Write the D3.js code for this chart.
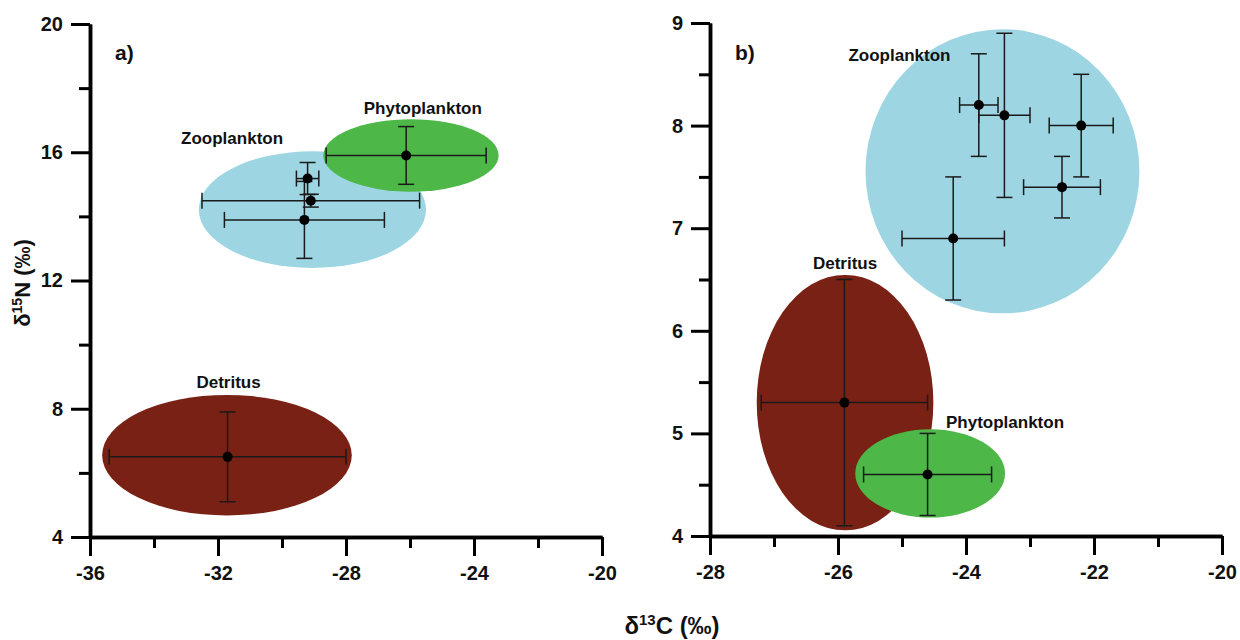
<!DOCTYPE html>
<html>
<head>
<meta charset="utf-8">
<script src="https://cdn.jsdelivr.net/npm/d3@7"></script>
<style>
  body { margin: 0; background: #fff; }
  svg text { font-family: "Liberation Sans", Arial, sans-serif; fill: #111; }
</style>
</head>
<body>
<div id="chart"></div>
<script>
// ---- data: panel a ----
var aTicksX = [-36, -32, -28, -24, -20];
var aMinorX = [-34, -30, -26, -22];
var aTicksY = [4, 8, 12, 16, 20];
var aMinorY = [6, 10, 14, 18];
// ellipses: centre (d13C, d15N) and half widths
var aEllipses = [
  {group: "Detritus",      c: -31.72, n: 6.55,  rc: 3.9,  rn: 1.88},
  {group: "Zooplankton",   c: -29.05, n: 14.21, rc: 3.55, rn: 1.82},
  {group: "Phytoplankton", c: -25.97, n: 15.9,  rc: 2.74, rn: 1.13}
];
// points with +/- errors
var aPoints = [
  {group: "Zooplankton",   c: -29.2,  n: 15.18, ec: 0.35, en: 0.5},
  {group: "Zooplankton",   c: -29.1,  n: 14.49, ec: 3.4,  en: 0.2},
  {group: "Zooplankton",   c: -29.3,  n: 13.89, ec: 2.5,  en: 1.2},
  {group: "Phytoplankton", c: -26.12, n: 15.9,  ec: 2.5,  en: 0.9},
  {group: "Detritus",      c: -31.7,  n: 6.5,   ec: 3.7,  en: 1.4}
];
var aLabels = [
  {text: "Zooplankton",   c: -31.56, n: 16.25},
  {text: "Phytoplankton", c: -25.6,  n: 17.2},
  {text: "Detritus",      c: -31.67, n: 8.65}
];

// ---- data: panel b ----
var bTicksX = [-28, -26, -24, -22, -20];
var bMinorX = [-27, -25, -23, -21];
var bTicksY = [4, 5, 6, 7, 8, 9];
var bMinorY = [4.5, 5.5, 6.5, 7.5, 8.5];
var bEllipses = [
  {group: "Zooplankton",   c: -23.43, n: 7.555, rc: 2.14, rn: 1.385},
  {group: "Detritus",      c: -25.89, n: 5.3,   rc: 1.38, rn: 1.245},
  {group: "Phytoplankton", c: -24.56, n: 4.61,  rc: 1.17, rn: 0.43}
];
var bPoints = [
  {group: "Zooplankton",   c: -23.8, n: 8.2, ec: 0.3, en: 0.5},
  {group: "Zooplankton",   c: -23.4, n: 8.1, ec: 0.4, en: 0.8},
  {group: "Zooplankton",   c: -22.2, n: 8.0, ec: 0.5, en: 0.5},
  {group: "Zooplankton",   c: -22.5, n: 7.4, ec: 0.6, en: 0.3},
  {group: "Zooplankton",   c: -24.2, n: 6.9, ec: 0.8, en: 0.6},
  {group: "Detritus",      c: -25.9, n: 5.3, ec: 1.3, en: 1.2},
  {group: "Phytoplankton", c: -24.6, n: 4.6, ec: 1.0, en: 0.4}
];
var bLabels = [
  {text: "Zooplankton",   c: -25.04, n: 8.63},
  {text: "Detritus",      c: -25.89, n: 6.6},
  {text: "Phytoplankton", c: -23.39, n: 5.05}
];

var colors = {
  "Zooplankton": "#9dd5e3",
  "Phytoplankton": "#4db848",
  "Detritus": "#7a2115"
};

var W = 1240, H = 640;
var svg = d3.select("#chart").append("svg")
    .attr("width", W)
    .attr("height", H);

// plain hyphen for negatives, no decimals
var fmt = function(d) { return String(d); };

function drawPanel(opts) {
  var x = d3.scaleLinear().domain(opts.xDomain).range(opts.xRange);
  var y = d3.scaleLinear().domain(opts.yDomain).range(opts.yRange);
  var g = svg.append("g");

  // ellipses
  g.selectAll("ellipse")
    .data(opts.ellipses)
    .enter().append("ellipse")
      .attr("cx", function(d) { return x(d.c); })
      .attr("cy", function(d) { return y(d.n); })
      .attr("rx", function(d) { return Math.abs(x(d.c + d.rc) - x(d.c)); })
      .attr("ry", function(d) { return Math.abs(y(d.n + d.rn) - y(d.n)); })
      .attr("fill", function(d) { return colors[d.group]; });

  // error bars
  var cap = 8;
  var eb = g.selectAll(".eb")
    .data(opts.points)
    .enter().append("g")
      .attr("class", "eb")
      .attr("stroke", "#1a1a1a")
      .attr("stroke-width", 1.5);
  eb.append("line")
      .attr("x1", function(d) { return x(d.c - d.ec); })
      .attr("x2", function(d) { return x(d.c + d.ec); })
      .attr("y1", function(d) { return y(d.n); })
      .attr("y2", function(d) { return y(d.n); });
  eb.append("line")
      .attr("x1", function(d) { return x(d.c); })
      .attr("x2", function(d) { return x(d.c); })
      .attr("y1", function(d) { return y(d.n - d.en); })
      .attr("y2", function(d) { return y(d.n + d.en); });
  // caps
  [-1, 1].forEach(function(s) {
    eb.append("line")
        .attr("x1", function(d) { return x(d.c + s * d.ec); })
        .attr("x2", function(d) { return x(d.c + s * d.ec); })
        .attr("y1", function(d) { return y(d.n) - cap; })
        .attr("y2", function(d) { return y(d.n) + cap; });
    eb.append("line")
        .attr("x1", function(d) { return x(d.c) - cap; })
        .attr("x2", function(d) { return x(d.c) + cap; })
        .attr("y1", function(d) { return y(d.n + s * d.en); })
        .attr("y2", function(d) { return y(d.n + s * d.en); });
  });
  g.selectAll(".dot")
    .data(opts.points)
    .enter().append("circle")
      .attr("class", "dot")
      .attr("cx", function(d) { return x(d.c); })
      .attr("cy", function(d) { return y(d.n); })
      .attr("r", 5)
      .attr("fill", "#000");

  // group labels
  g.selectAll(".glabel")
    .data(opts.labels)
    .enter().append("text")
      .attr("class", "glabel")
      .attr("x", function(d) { return x(d.c); })
      .attr("y", function(d) { return y(d.n); })
      .attr("text-anchor", "middle")
      .style("font-size", "17px")
      .style("font-weight", "bold")
      .text(function(d) { return d.text; });

  // axes
  var y0 = opts.yRange[0];
  var x0 = opts.xRange[0];
  var xMinor = g.append("g")
      .attr("transform", "translate(0," + y0 + ")")
      .call(d3.axisBottom(x).tickValues(opts.minorX).tickSize(11).tickSizeOuter(0).tickFormat(""));
  var yMinor = g.append("g")
      .attr("transform", "translate(" + x0 + ",0)")
      .call(d3.axisLeft(y).tickValues(opts.minorY).tickSize(11).tickSizeOuter(0).tickFormat(""));
  var xAxis = g.append("g")
      .attr("transform", "translate(0," + y0 + ")")
      .call(d3.axisBottom(x).tickValues(opts.ticksX).tickSize(19).tickSizeOuter(0).tickPadding(10).tickFormat(fmt));
  var yAxis = g.append("g")
      .attr("transform", "translate(" + x0 + ",0)")
      .call(d3.axisLeft(y).tickValues(opts.ticksY).tickSize(19).tickSizeOuter(0).tickPadding(8).tickFormat(fmt));

  [xMinor, yMinor, xAxis, yAxis].forEach(function(a) {
    a.selectAll("line").attr("stroke", "#000").attr("stroke-width", 3);
    a.select(".domain").attr("stroke", "#000").attr("stroke-width", 3.5);
    a.selectAll("text")
      .style("font-family", "'Liberation Sans', Arial, sans-serif")
      .style("font-size", "20px")
      .style("font-weight", "bold")
      .attr("fill", "#111");
  });

  // panel letter
  g.append("text")
      .attr("x", x0 + 25)
      .attr("y", 60)
      .style("font-size", "21px")
      .style("font-weight", "bold")
      .text(opts.letter);
}

drawPanel({
  xDomain: [-36, -20], xRange: [90, 602],
  yDomain: [4, 20], yRange: [537, 24],
  ticksX: aTicksX, minorX: aMinorX, ticksY: aTicksY, minorY: aMinorY,
  ellipses: aEllipses, points: aPoints, labels: aLabels, letter: "a)"
});

drawPanel({
  xDomain: [-28, -20], xRange: [710, 1222],
  yDomain: [4, 9], yRange: [536, 23],
  ticksX: bTicksX, minorX: bMinorX, ticksY: bTicksY, minorY: bMinorY,
  ellipses: bEllipses, points: bPoints, labels: bLabels, letter: "b)"
});

// axis titles
var yTitle = svg.append("text")
    .attr("transform", "translate(30,283)rotate(-90)")
    .attr("text-anchor", "middle")
    .style("font-size", "22px")
    .style("font-weight", "bold");
yTitle.append("tspan").text("δ");
yTitle.append("tspan").attr("dy", -8).style("font-size", "14px").text("15");
yTitle.append("tspan").attr("dy", 8).text("N (‰)");

var xTitle = svg.append("text")
    .attr("x", 672)
    .attr("y", 634)
    .attr("text-anchor", "middle")
    .style("font-size", "24px")
    .style("font-weight", "bold");
xTitle.append("tspan").text("δ");
xTitle.append("tspan").attr("dy", -9).style("font-size", "15px").text("13");
xTitle.append("tspan").attr("dy", 9).text("C (‰)");
</script>
</body>
</html>
